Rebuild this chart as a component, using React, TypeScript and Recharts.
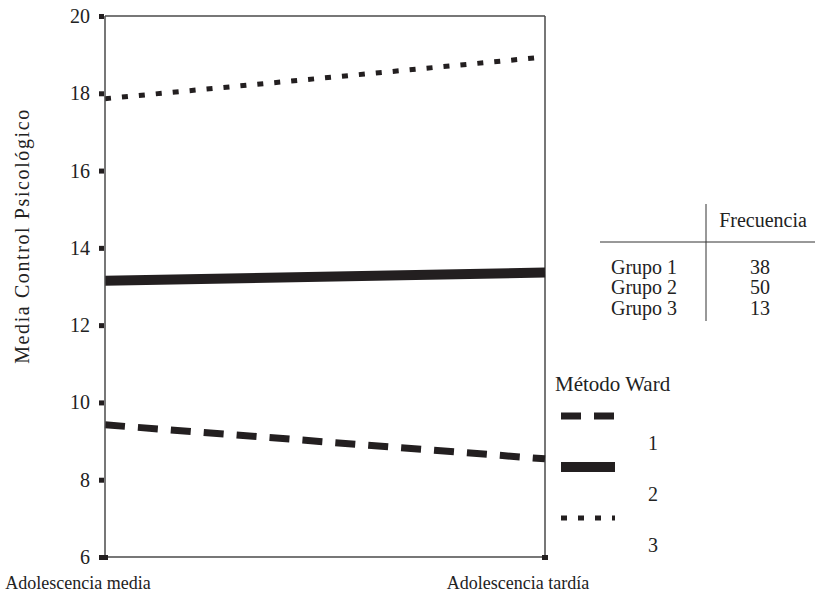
import { Line, LineChart, ReferenceLine, XAxis, YAxis } from "recharts";

const categories = ["Adolescencia media", "Adolescencia tardía"];
const grupo1 = [9.42, 8.54];
const grupo2 = [13.15, 13.36];
const grupo3 = [17.86, 18.94];
const yTicks = [6, 8, 10, 12, 14, 16, 18, 20];

const groupNames = ["Grupo 1", "Grupo 2", "Grupo 3"];
const frequencies = [38, 50, 13];
const legendLabels = ["1", "2", "3"];

const INK = "#231f20";
const AXIS = "#4a4a4a";
const FONT = "'Liberation Serif', 'DejaVu Serif', serif";

const data = categories.map((name, i) => ({
  name,
  g1: grupo1[i],
  g2: grupo2[i],
  g3: grupo3[i],
}));

const SERIES = [
  { key: "g1", width: 7, dash: "20 13" },
  { key: "g2", width: 10, dash: undefined },
  { key: "g3", width: 5, dash: "6 11" },
];

function XTick({ x, y, payload }: any) {
  return (
    <g>
      <rect x={x - 3} y={y - 10} width={6} height={5} fill={INK} />
      <text
        x={x - 27}
        y={y + 24}
        textAnchor="middle"
        fontFamily={FONT}
        fontSize={18}
        fill="#222"
      >
        {payload.value}
      </text>
    </g>
  );
}

function YTick({ x, y, payload }: any) {
  return (
    <g>
      <rect x={x + 2} y={y - 2} width={5} height={5} fill={INK} />
      <text
        x={x - 7}
        y={y + 7}
        textAnchor="end"
        fontFamily={FONT}
        fontSize={20}
        fill="#222"
      >
        {payload.value}
      </text>
    </g>
  );
}

function YLabel() {
  return (
    <text
      x={22}
      y={236}
      transform="rotate(-90 22 236)"
      textAnchor="middle"
      dominantBaseline="central"
      fontFamily={FONT}
      fontSize={20}
      letterSpacing={1.6}
      fill="#222"
    >
      Media Control Psicológico
    </text>
  );
}

function Overlay() {
  const tableRows = [267, 287, 308];
  const legendRows = [416, 467, 518];
  return (
    <svg
      width={815}
      height={604}
      style={{ position: "absolute", left: 0, top: 0, pointerEvents: "none" }}
    >
      {/* frequency table */}
      <line x1={706} x2={706} y1={204} y2={321} stroke="#333" strokeWidth={1} />
      <line x1={600} x2={815} y1={242} y2={242} stroke="#333" strokeWidth={1} />
      <text x={763} y={227} textAnchor="middle" fontFamily={FONT} fontSize={20} fill="#222">
        Frecuencia
      </text>
      {groupNames.map((g, i) => (
        <g key={g}>
          <text x={611} y={tableRows[i] + 7} fontFamily={FONT} fontSize={20} fill="#222">
            {g}
          </text>
          <text
            x={760}
            y={tableRows[i] + 7}
            textAnchor="middle"
            fontFamily={FONT}
            fontSize={20}
            fill="#222"
          >
            {frequencies[i]}
          </text>
        </g>
      ))}

      {/* legend */}
      <text x={555} y={391} fontFamily={FONT} fontSize={21} fill="#222">
        Método Ward
      </text>
      {SERIES.map((s, i) => (
        <g key={s.key}>
          <line
            x1={561}
            x2={615}
            y1={legendRows[i]}
            y2={legendRows[i]}
            stroke={INK}
            strokeWidth={s.width}
            strokeDasharray={s.dash}
          />
          <text
            x={653}
            y={legendRows[i] + 34}
            textAnchor="middle"
            fontFamily={FONT}
            fontSize={20}
            fill="#222"
          >
            {legendLabels[i]}
          </text>
        </g>
      ))}
    </svg>
  );
}

export default function App() {
  return (
    <div
      style={{
        position: "absolute",
        left: 0,
        top: 0,
        width: 815,
        height: 604,
        background: "#fff",
      }}
    >
      <LineChart
        width={815}
        height={604}
        data={data}
        margin={{ top: 16, right: 270, left: 45, bottom: 17 }}
      >
        <XAxis
          dataKey="name"
          scale="point"
          padding={{ left: 0, right: 0 }}
          height={30}
          tickLine={false}
          axisLine={{ stroke: AXIS, strokeWidth: 1.5 }}
          tick={<XTick />}
          interval={0}
        />
        <YAxis
          domain={[6, 20]}
          ticks={yTicks}
          width={60}
          tickLine={false}
          axisLine={{ stroke: AXIS, strokeWidth: 1.5 }}
          tick={<YTick />}
          label={<YLabel />}
        />
        <ReferenceLine y={20} stroke={AXIS} strokeWidth={1.5} />
        <ReferenceLine x={categories[1]} stroke={AXIS} strokeWidth={1.5} />
        {SERIES.map((s) => (
          <Line
            key={s.key}
            dataKey={s.key}
            type="linear"
            stroke={INK}
            strokeWidth={s.width}
            strokeDasharray={s.dash}
            strokeLinecap="butt"
            dot={false}
            activeDot={false}
            isAnimationActive={false}
          />
        ))}
      </LineChart>
      <Overlay />
    </div>
  );
}
